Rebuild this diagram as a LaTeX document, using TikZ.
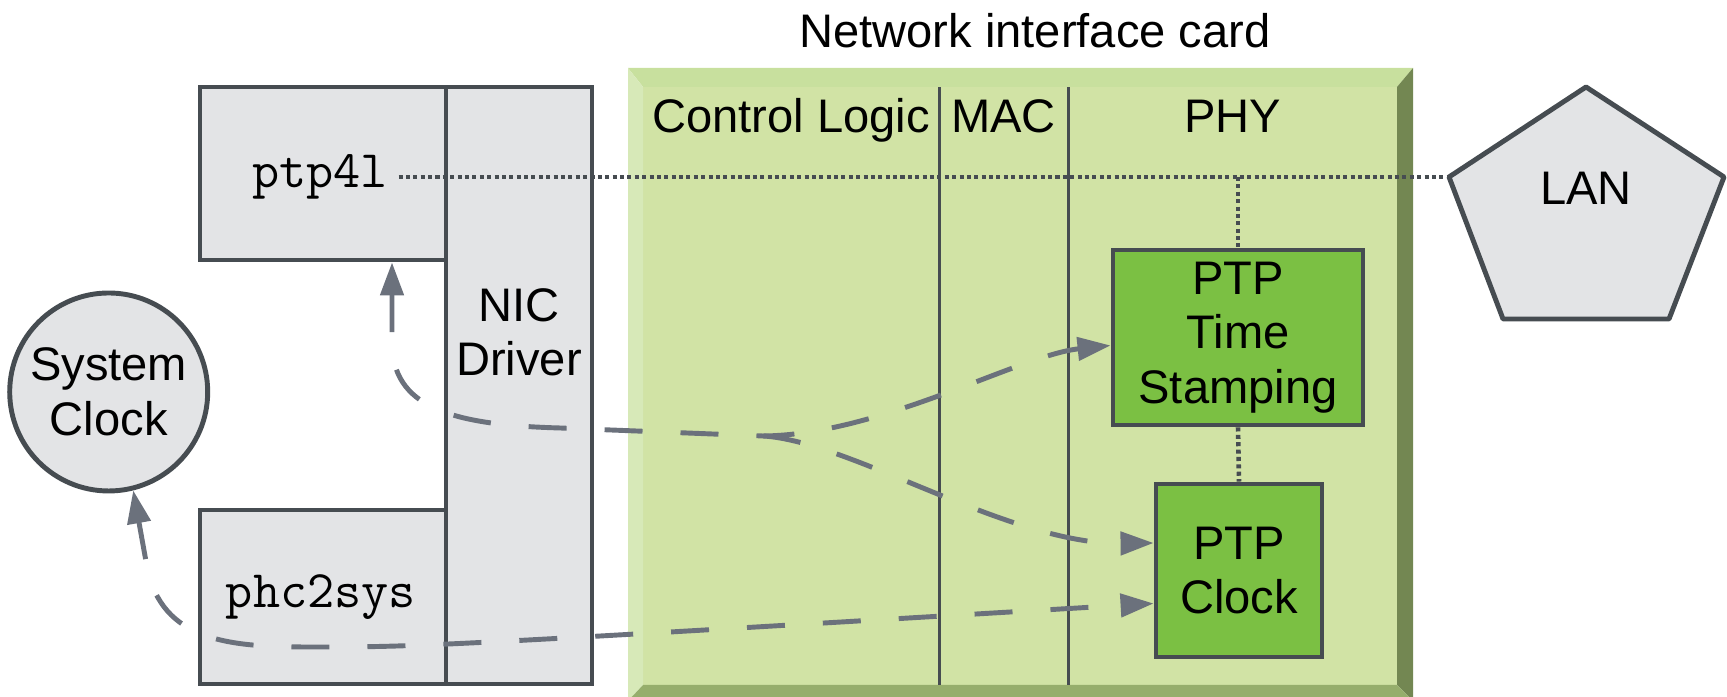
\documentclass[tikz,border=0pt]{standalone}
\usepackage{fontspec}
\setmainfont{Liberation Sans}
\usepackage{tikz}
\usetikzlibrary{calc, arrows.meta}

\definecolor{edge}{HTML}{464C51}
\definecolor{boxgray}{HTML}{E3E4E6}
\definecolor{ptpgreen}{HTML}{7BC043}
\definecolor{face}{HTML}{D1E3A5}
\definecolor{bevtop}{HTML}{C8E09E}
\definecolor{bevleft}{HTML}{D7E9B8}
\definecolor{bevright}{HTML}{738752}
\definecolor{bevbottom}{HTML}{96AE6C}
\definecolor{flowgray}{HTML}{6B717C}

\tikzset{
        every node/.style={font=\fontsize{13.4}{15.5}\selectfont},
        hostbox/.style={draw=edge, fill=boxgray, line width=1.4pt},
        hwbox/.style={draw=edge, fill=ptpgreen, line width=1.4pt, align=center},
        codetext/.style={font=\ttfamily\fontsize{15}{17}\selectfont},
        wire/.style={draw=edge, line width=1.3pt, dash pattern=on 1.15pt off 0.95pt},
        flow/.style={draw=flowgray, line width=1.4pt, dash pattern=on 3.8mm off 3.8mm,
                >={Triangle[length=3.3mm,width=2.3mm]}},
}

\begin{document}
\begin{tikzpicture}
        \useasboundingbox (0,0) rectangle (17.27,6.97);
        \fill[face] (6.43,0.12) rectangle (13.97,6.10);
        \fill[bevtop] (6.28,6.29) -- (14.13,6.29) -- (13.97,6.10) -- (6.43,6.10) -- cycle;
        \fill[bevleft] (6.28,6.29) -- (6.43,6.10) -- (6.43,0.12) -- (6.28,-0.04) -- cycle;
        \fill[bevright] (14.13,6.29) -- (14.13,-0.04) -- (13.97,0.12) -- (13.97,6.10) -- cycle;
        \fill[bevbottom] (6.28,-0.04) -- (14.13,-0.04) -- (13.97,0.12) -- (6.43,0.12) -- cycle;
        \node (title) at (10.35,6.66) {Network interface card};
        \draw[edge, line width=0.85pt] (9.39,0.12) -- (9.39,6.10);
        \draw[edge, line width=0.85pt] (10.68,0.12) -- (10.68,6.10);
        \node[anchor=base] (ctrl) at (7.91,5.64) {Control Logic};
        \node[anchor=base] (mac) at (10.035,5.64) {MAC};
        \node[anchor=base] (phy) at (12.325,5.64) {PHY};

        \node[hostbox, minimum width=2.46cm, minimum height=1.73cm] (ptpd) at (3.23,5.235) {};
        \node[hostbox, minimum width=2.46cm, minimum height=1.74cm] (phcd) at (3.23,1.00) {};
        \node[hostbox, minimum width=1.46cm, minimum height=5.97cm] (nicdrv) at (5.19,3.115) {};
        \node[align=center] (niclabel) at (5.19,3.645) {NIC\\Driver};
        \node[codetext, inner sep=1mm] (ptptext) at (3.20,5.20) {ptp4l};
        \node[codetext] (phctext) at (3.21,1.00) {phc2sys};
        \node[circle, draw=edge, fill=boxgray, line width=1.4pt, minimum size=1.98cm,
                inner sep=0pt, align=center] (sysclk) at (1.087,3.05) {System\\Clock};

        \coordinate (lanN) at (15.86,6.10);
        \coordinate (lanE) at (17.24,5.20);
        \coordinate (lanSE) at (16.69,3.78);
        \coordinate (lanSW) at (15.03,3.78);
        \coordinate (lanW) at (14.49,5.20);
        \draw[edge, fill=boxgray, line width=1.4pt, line join=round]
                (lanN) -- (lanE) -- (lanSE) -- (lanSW) -- (lanW) -- cycle;
        \node (lan) at (15.86,5.09) {LAN};

        \node[hwbox, minimum width=2.50cm, minimum height=1.75cm] (stamp) at (12.38,3.595) {PTP\\Time\\Stamping};
        \node[hwbox, minimum width=1.66cm, minimum height=1.73cm] (phcclk) at (12.39,1.265) {PTP\\Clock};

        \draw[wire] (ptptext.east) -- (lanW);
        \draw[wire] (stamp.north |- lanW) -- (stamp.north);
        \draw[wire] (stamp.south) -- (phcclk.north);

        \coordinate (fork) at (7.63,2.61);
        \draw[flow, <->] ($(ptpd.south)+(0.69,0)$) -- (3.92,3.55)
                .. controls (3.92,2.9) and (4.5,2.72) .. (5.6,2.69) -- (fork)
                .. controls (8.8,2.62) and (10.2,3.42) .. ($(stamp.west)+(0,-0.08)$);
        \draw[flow, ->] (fork) .. controls (8.5,2.56) and (10.1,1.52) .. ($(phcclk.west)+(0,0.275)$);
        \draw[flow, <->] (sysclk.-76) -- (1.47,1.30)
                .. controls (1.62,0.55) and (2.3,0.50) .. (3.1,0.50)
                .. controls (4.2,0.50) .. ($(phcclk.west)+(0,-0.33)$);
\end{tikzpicture}
\end{document}
